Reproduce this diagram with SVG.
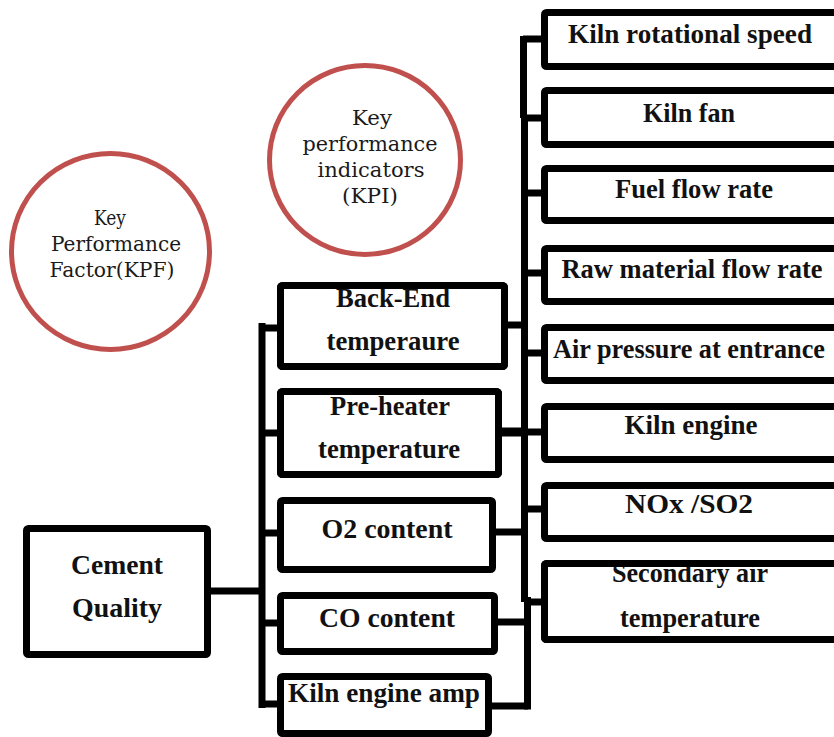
<svg xmlns="http://www.w3.org/2000/svg" width="834" height="737" viewBox="0 0 834 737">
  <style>
    .ring{fill:none;stroke:#C0504D;stroke-width:5}
    .ct{font-family:"DejaVu Serif","Liberation Serif",serif;font-size:20px;fill:#1a1a1a;text-anchor:middle}
    .box{fill:#fff;stroke:#000;stroke-width:7;stroke-linejoin:round}
    .frame{fill:none;stroke:#000;stroke-width:7;stroke-linejoin:round}
    .bt{font-family:"Liberation Serif","DejaVu Serif",serif;font-weight:bold;font-size:27px;fill:#111;text-anchor:middle}
    .wire{fill:none;stroke:#000;stroke-width:7;stroke-linecap:butt}
  </style>
  <rect width="834" height="737" fill="#fff"/>

  <!-- legend circles -->
  <g id="kpf">
    <ellipse class="ring" cx="110.5" cy="251.5" rx="99" ry="98"/>
    <text class="ct" x="110" y="225" textLength="32" lengthAdjust="spacingAndGlyphs">Key</text>
    <text class="ct" x="116" y="251" textLength="130" lengthAdjust="spacingAndGlyphs">Performance</text>
    <text class="ct" x="112" y="277" textLength="125" lengthAdjust="spacingAndGlyphs">Factor(KPF)</text>
  </g>
  <g id="kpi">
    <ellipse class="ring" cx="365" cy="160" rx="95.5" ry="94.5"/>
    <text class="ct" x="372" y="125" textLength="40" lengthAdjust="spacingAndGlyphs">Key</text>
    <text class="ct" x="370" y="151" textLength="135" lengthAdjust="spacingAndGlyphs">performance</text>
    <text class="ct" x="371" y="177" textLength="107" lengthAdjust="spacingAndGlyphs">indicators</text>
    <text class="ct" x="370" y="203" textLength="56" lengthAdjust="spacingAndGlyphs">(KPI)</text>
  </g>

  <!-- connectors -->
  <g id="connectors">
    <path class="wire" d="M211 591 H262"/>
    <path class="wire" d="M262 323 V708"/>
    <path class="wire" d="M262 328 H281 M262 433 H281 M262 533 H281 M262 623 H281 M262 704 H281"/>
    <path class="wire" d="M505 325 H525 M493 532 H525 M495 622 H528 M489 706 H528"/>
    <path class="wire" style="stroke-width:9" d="M499 432 H525"/>
    <path class="wire" d="M523.5 36 V118 M524.5 115 V602 M527.5 597 V709.5"/>
    <path class="wire" d="M523 39 H545 M524 118 H545 M524 193 H545 M524 273 H545 M524 353 H545 M524 432 H545 M524 509 H545 M527 602 H545"/>
  </g>

  <!-- root -->
  <g id="cement-quality">
    <rect class="box" x="26.5" y="528.5" width="181" height="126" rx="2"/>
    <text class="bt" x="117" y="574" textLength="92" lengthAdjust="spacingAndGlyphs">Cement</text>
    <text class="bt" x="117" y="617" textLength="90" lengthAdjust="spacingAndGlyphs">Quality</text>
  </g>

  <!-- key performance factors -->
  <g id="back-end">
    <rect class="box" x="280.5" y="285.5" width="224" height="81" rx="2"/>
    <text class="bt" x="393" y="307" textLength="114" lengthAdjust="spacingAndGlyphs">Back-End</text>
    <text class="bt" x="393" y="350" textLength="133" lengthAdjust="spacingAndGlyphs">temperaure</text>
    <rect class="frame" x="280.5" y="285.5" width="224" height="81" rx="2"/>
  </g>
  <g id="pre-heater">
    <rect class="box" x="280.5" y="391.5" width="218" height="83" rx="2"/>
    <text class="bt" x="390" y="415" textLength="120" lengthAdjust="spacingAndGlyphs">Pre-heater</text>
    <text class="bt" x="389" y="458" textLength="142" lengthAdjust="spacingAndGlyphs">temperature</text>
    <rect class="frame" x="280.5" y="391.5" width="218" height="83" rx="2"/>
  </g>
  <g id="o2-content">
    <rect class="box" x="280.5" y="500.5" width="212" height="69" rx="2"/>
    <text class="bt" x="387" y="538" textLength="131" lengthAdjust="spacingAndGlyphs">O2 content</text>
  </g>
  <g id="co-content">
    <rect class="box" x="280.5" y="595.5" width="214" height="56" rx="2"/>
    <text class="bt" x="387" y="627" textLength="136" lengthAdjust="spacingAndGlyphs">CO content</text>
  </g>
  <g id="kiln-engine-amp">
    <rect class="box" x="280.5" y="676.5" width="208" height="57" rx="2"/>
    <text class="bt" x="384" y="702" textLength="192" lengthAdjust="spacingAndGlyphs">Kiln engine amp</text>
  </g>

  <!-- key performance indicators -->
  <g id="kiln-rotational-speed">
    <rect class="box" x="544.5" y="12.5" width="300" height="54" rx="2"/>
    <text class="bt" x="690" y="43" textLength="244" lengthAdjust="spacingAndGlyphs">Kiln rotational speed</text>
  </g>
  <g id="kiln-fan">
    <rect class="box" x="544.5" y="90.5" width="300" height="54" rx="2"/>
    <text class="bt" x="689" y="122" textLength="92" lengthAdjust="spacingAndGlyphs">Kiln fan</text>
  </g>
  <g id="fuel-flow-rate">
    <rect class="box" x="544.5" y="168.5" width="300" height="52" rx="2"/>
    <text class="bt" x="694" y="198" textLength="158" lengthAdjust="spacingAndGlyphs">Fuel flow rate</text>
  </g>
  <g id="raw-material-flow-rate">
    <rect class="box" x="544.5" y="248.5" width="300" height="53" rx="2"/>
    <text class="bt" x="692" y="278" textLength="261" lengthAdjust="spacingAndGlyphs">Raw material flow rate</text>
  </g>
  <g id="air-pressure">
    <rect class="box" x="544.5" y="327.5" width="300" height="53" rx="2"/>
    <text class="bt" x="689" y="358" textLength="272" lengthAdjust="spacingAndGlyphs">Air pressure at entrance</text>
  </g>
  <g id="kiln-engine">
    <rect class="box" x="544.5" y="406.5" width="300" height="53" rx="2"/>
    <text class="bt" x="691" y="434" textLength="133" lengthAdjust="spacingAndGlyphs">Kiln engine</text>
  </g>
  <g id="nox-so2">
    <rect class="box" x="544.5" y="485.5" width="300" height="53" rx="2"/>
    <text class="bt" x="689" y="513" textLength="128" lengthAdjust="spacingAndGlyphs">NOx /SO2</text>
  </g>
  <g id="secondary-air">
    <rect class="box" x="544.5" y="563.5" width="300" height="76" rx="2"/>
    <text class="bt" x="690" y="582" textLength="156" lengthAdjust="spacingAndGlyphs">Secondary air</text>
    <text class="bt" x="690" y="627" textLength="140" lengthAdjust="spacingAndGlyphs">temperature</text>
    <rect class="frame" x="544.5" y="563.5" width="300" height="76" rx="2"/>
  </g>
</svg>
